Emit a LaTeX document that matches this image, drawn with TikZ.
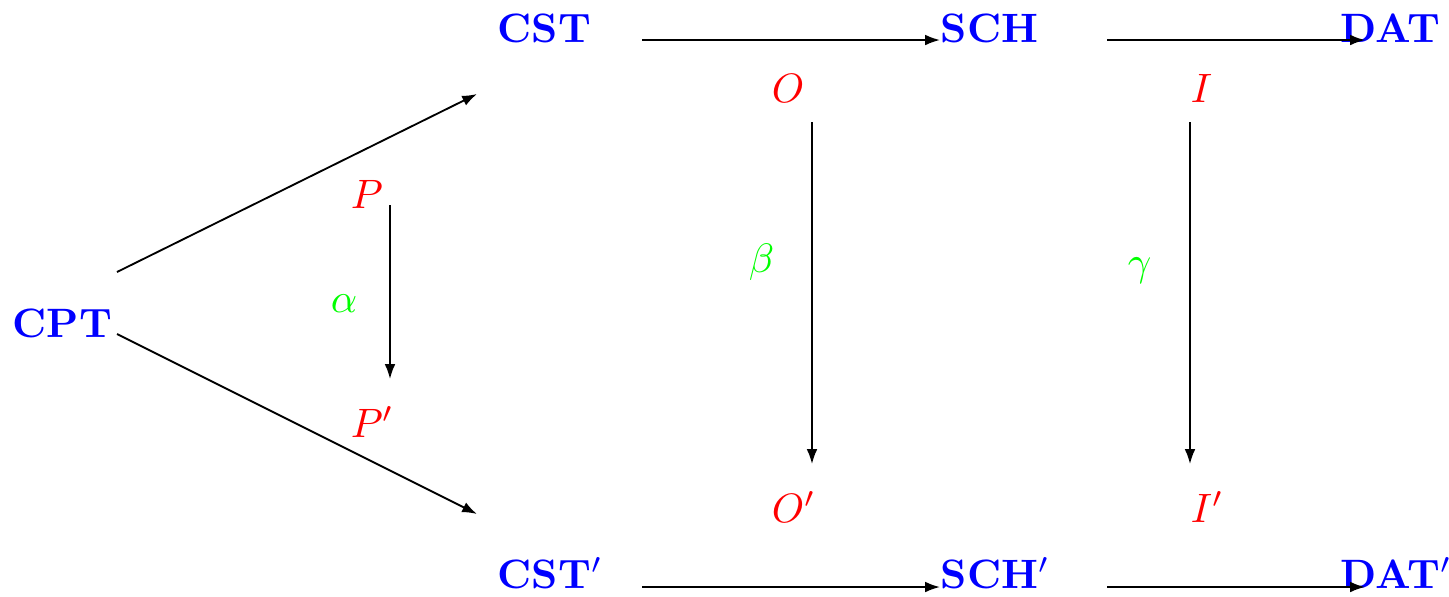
\documentclass[tikz,border=0pt]{standalone}
\usetikzlibrary{arrows.meta}
\begin{document}
\begin{tikzpicture}[x=0.2436pt,y=-0.2436pt,
  obj/.style={inner sep=0pt,anchor=base west,text=blue,font=\bfseries},
  var/.style={inner sep=0pt,anchor=base west,text=red},
  lab/.style={inner sep=0pt,anchor=base west,text=green},
  arr/.style={line width=0.45pt,-{Latex[length=3.6pt,width=2.6pt]}}]
\useasboundingbox (0,0) rectangle (1449,596);
% objects
\node[obj] (CST) at (497,42) {CST};
\node[obj] (SCH) at (940,42) {SCH};
\node[obj] (DAT) at (1340,42) {DAT};
\node[obj] (CPT) at (12,337) {CPT};
\node[obj] (CSTp) at (497,588) {CST$'$};
\node[obj] (SCHp) at (940,588) {SCH$'$};
\node[obj] (DATp) at (1340,588) {DAT$'$};
% variables
\node[var] (P) at (350,208) {$P$};
\node[var] (Pp) at (350,437) {$P'$};
\node[var] (O) at (771,102) {$O$};
\node[var] (Op) at (771,522) {$O'$};
\node[var] (I) at (1190,102) {$I$};
\node[var] (Ip) at (1190,522) {$I'$};
% labels
\node[lab] (alpha) at (330,312) {$\alpha$};
\node[lab] (beta) at (748,272) {$\beta$};
\node[lab] (gamma) at (1127,275) {$\gamma$};
% connector end points
\coordinate (t1) at (642,40);  \coordinate (t2) at (940,40);
\coordinate (t3) at (1107,40); \coordinate (t4) at (1365,40);
\coordinate (b1) at (642,587); \coordinate (b2) at (940,587);
\coordinate (b3) at (1107,587); \coordinate (b4) at (1365,587);
\coordinate (d1) at (117,272); \coordinate (d2) at (477,94);
\coordinate (d3) at (117,334); \coordinate (d4) at (477,514);
\coordinate (pa) at (390,205); \coordinate (pb) at (390,379);
\coordinate (oa) at (812,122); \coordinate (ob) at (812,464);
\coordinate (ia) at (1190,122); \coordinate (ib) at (1190,464);
% connectors
\draw[arr] (t1) -- (t2);
\draw[arr] (t3) -- (t4);
\draw[arr] (b1) -- (b2);
\draw[arr] (b3) -- (b4);
\draw[arr] (d1) -- (d2);
\draw[arr] (d3) -- (d4);
\draw[arr] (pa) -- (pb);
\draw[arr] (oa) -- (ob);
\draw[arr] (ia) -- (ib);
\end{tikzpicture}
\end{document}
